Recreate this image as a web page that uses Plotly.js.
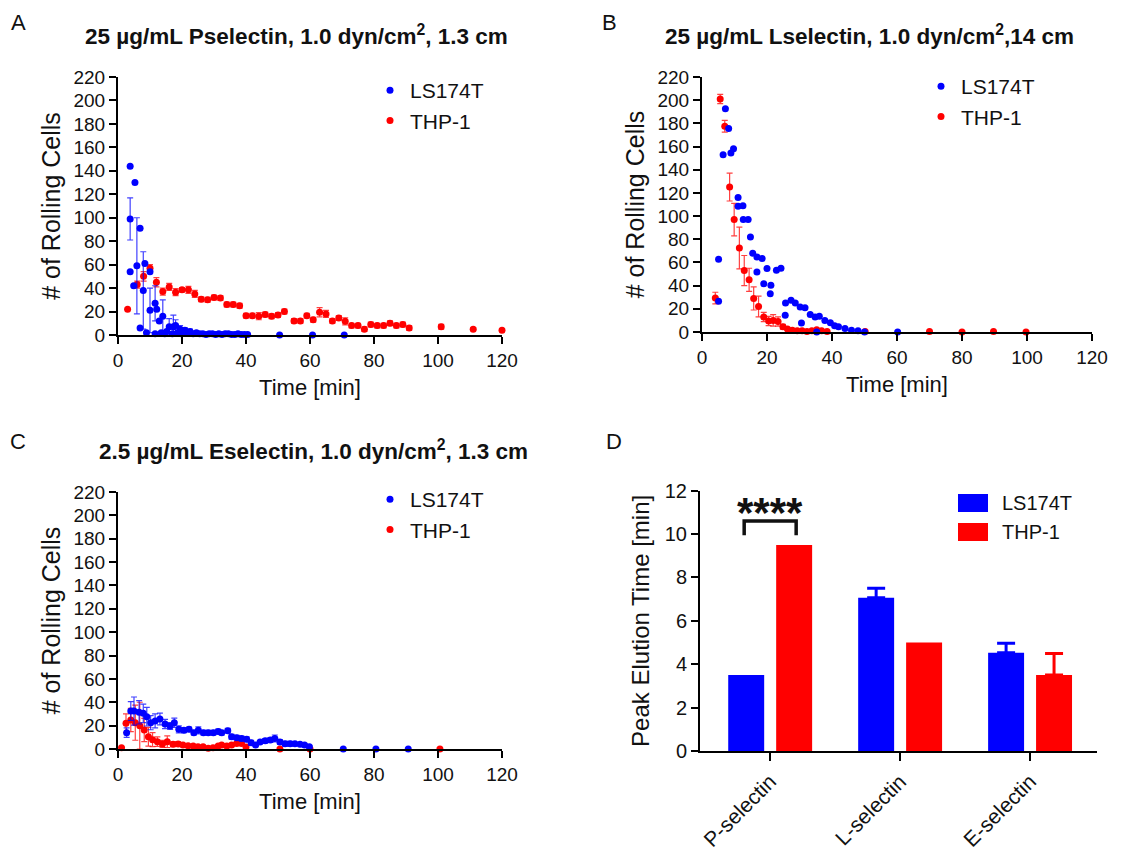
<!DOCTYPE html>
<html><head><meta charset="utf-8">
<script src="https://cdn.plot.ly/plotly-3.0.1.min.js"></script>
<style>html,body{margin:0;padding:0;background:#fff}#chart{width:1128px;height:854px}</style>
</head><body><div id="chart"></div>
<script>
const seriesNames = ['LS174T', 'THP-1'];
const seriesColors = ['#0000FF', '#FF0000'];

// Panel A: 25 ug/mL P-selectin
const aBlueT = [3.8,5.3,3.8,3.8,4.9,5.9,6.9,6.9,7.9,8.4,8.9,10,10,11.6,12.1,11.6,12.9,14,16,17.3,18,19.4,20.9,22.5,13.5,14.6,15.2,17,18.6,19.8,21.5,23.5,24.5,25.5,26.5,27.5,28.5,29.5,30.5,31.5,32.5,33.5,34.5,35.5,36.5,37.5,38.5,39.5,40.5,50.5,60.8,70.7];
const aBlueV = [144,130,99,54,42,59,91,6,38,61,2,54,21,27,22,1,12,16,7,7,8,5,4,3,2,1,3,1,2,1,2,1,2,1,1,0.5,1,1,0.5,1,0.5,1,1,0.5,0.5,1,0.5,0.5,0.5,0,0,0];
const aBlueE = [0,0,18,0,0,41,0,0,33,0,0,0,19,15,0,0,0,14,7,10,5,3,2,2,1,1,1,1,1,1,1,1,1,1,1,0,0,0,0,0,0,0,0,0,0,0,0,0,0,0,0,0];
const aRedT = [3,6,8,10,12,14,16,18,20,22,24,26,28,30,32,34,36,38,40,42,44,46,48,50,52,55,57,59,61,63,65,67,69,71,73,75,77,79,81,83,85,87,89,91,101,111,120];
const aRedV = [22,43,50,57,45,37,41,36.5,38.5,38.5,35,30.5,30,32,31.5,26,26,25,16.5,16.5,16,17.5,16,17,20,12,12,16.5,13,19.4,18,12,14.5,11.7,8,8,5,9,8,8,10,8,9,6,7,5,4];
const aRedE = [0,3,4,3,4,3,3,3,2,3,3,2,2,2,2,2,2,2,2,2,3,2,2,2,2,2,2,2,2,4,3,2,2,3,2,2,2,2,2,2,2,2,2,2,2,1,1];

// Panel B: 25 ug/mL L-selectin
const bBlueT = [5.1,5.1,6.5,7.2,8.2,8.9,9.7,11.1,11.1,12.6,12.7,14.2,14.9,15.6,16.9,16.9,18.5,19,20,21,21.2,22.9,24.3,25.6,25.7,27.4,28.7,30.2,31.7,30.6,33.3,34.8,36.1,35.3,37.8,39.5,40.8,42,44,46,48,50,60.2];
const bBlueV = [26.5,62.7,153,192.7,175.5,154.5,158,116,108.5,109,97,97,82,68,64.7,51.8,63.5,41.7,54.7,33,40.3,53.2,55,14.4,25,27.3,25,21.6,21,7.8,15,13,13.5,0,10,8,5.5,4.5,3,1.5,1,0,0];
const bRedT = [4.1,5.6,7,8.5,9.9,11.5,13,14.5,15.9,17.4,19,20.5,21.9,23.4,24.9,26.3,27.8,29.3,30.8,32.3,33.8,35.3,36.8,38.5,50.2,70,80,89.7,99.7];
const bRedV = [29.3,201,177.5,125,97,72.5,53,45,29,22,13,9.5,10,9,4.5,2.5,1.5,1,1,0.5,1,2,1,0.5,0.5,0.5,0,0.5,0];
const bRedE = [5,4,5,12,14,18,13,10,10,9,4,4,5,4,2,1,1,1,1,0,0,0,0,0,0,0,0,0,0];

// Panel C: 2.5 ug/mL E-selectin
const cBlueT = [2.7,4,5,6.6,7.9,9,10.2,11.6,13.1,14.7,16.3,17.6,19,20.6,22.2,23.7,25.1,26.7,28.2,29.8,31.3,32.4,34.3,35.5,37.1,38.6,40.2,41.6,43,44.4,46,47.6,49,50.6,52.2,53.8,55.3,56.9,58.3,59.8,70.4,80.6,90.7];
const cBlueV = [14,32.5,32.5,31.4,30.5,27.7,22.5,24,25.7,21.4,19.7,22.5,16.8,16,16.8,14,16,14,14,14,15,14,15.7,10.5,9.7,9,8.3,5.4,3.4,6,7,7.7,9,6,4.5,4.5,4.5,4,3.4,2,0,0,0];
const cBlueE = [4,8,12,10,8,8,6,6,5,4,3,4,3,2,2,2,3,2,2,2,2,2,2,2,2,2,2,2,1,1,2,2,3,2,2,2,1,1,1,1,0,0,0];
const cRedT = [1.1,2.5,4,5.4,6.8,8.2,9.5,10.8,12.3,13.9,15.4,17.2,18.8,20.3,21.9,23.5,25,26.6,28.2,29.7,31.3,32.4,34,35.5,37.1,38.6,40,50.6,60,100.6];
const cRedV = [1,22,24.8,22.5,20,16.3,10.5,8,6.3,4.3,6.3,4,4.3,3.4,2.8,2.6,2,2,0.6,1,2.6,3.4,2.6,3.4,4.8,4.8,1.7,0,0,0];
const cRedE = [0,8,10,15,20,10,8,6,4,3,5,2,2,1,1,1,1,1,1,1,1,1,1,1,1,1,1,0,0,0];

// Panel D: peak elution time
const dCats = ['P-selectin', 'L-selectin', 'E-selectin'];
const dBlue = [3.5, 7.07, 4.53];
const dBlueErr = [0, 0.43, 0.44];
const dRed = [9.5, 5.0, 3.5];
const dRedErr = [0, 0, 1.0];

const FONT = 'Liberation Sans, Arial, sans-serif';
const noZero = (arr) => arr.map(v => (v > 0 ? v : NaN));

function scat(t, v, e, idx, xa, ya, leg) {
  const tr = {
    type: 'scatter', mode: 'markers', x: t, y: v, name: seriesNames[idx],
    xaxis: xa, yaxis: ya, legend: leg, legendrank: idx + 1, cliponaxis: false,
    marker: {color: seriesColors[idx], size: 7}
  };
  if (e) {
    tr.error_y = {type: 'data', array: noZero(e), visible: true, thickness: 1.2, width: 3,
      color: idx === 0 ? 'rgba(0,0,255,0.75)' : 'rgba(255,0,0,0.75)'};
  }
  return tr;
}

function barErr(e, color) {
  const up = noZero(e);
  return {type: 'data', array: up, arrayminus: up.map(v => (isNaN(v) ? NaN : 0)), symmetric: false,
    visible: true, thickness: 3, width: 9, color: color};
}

const data = [
  scat(aRedT, aRedV, aRedE, 1, 'x', 'y', 'legend'),
  scat(aBlueT, aBlueV, aBlueE, 0, 'x', 'y', 'legend'),
  scat(bRedT, bRedV, bRedE, 1, 'x2', 'y2', 'legend2'),
  scat(bBlueT, bBlueV, null, 0, 'x2', 'y2', 'legend2'),
  scat(cRedT, cRedV, cRedE, 1, 'x3', 'y3', 'legend3'),
  scat(cBlueT, cBlueV, cBlueE, 0, 'x3', 'y3', 'legend3'),
  {type: 'bar', x: dCats, y: dBlue, name: seriesNames[0], xaxis: 'x4', yaxis: 'y4', showlegend: false,
   marker: {color: seriesColors[0]}, error_y: barErr(dBlueErr, seriesColors[0])},
  {type: 'bar', x: dCats, y: dRed, name: seriesNames[1], xaxis: 'x4', yaxis: 'y4', showlegend: false,
   marker: {color: seriesColors[1]}, error_y: barErr(dRedErr, seriesColors[1])}
];

const axisBase = {
  showline: true, linecolor: '#000', linewidth: 2, ticks: 'outside', ticklen: 7, tickwidth: 2,
  tickcolor: '#000', showgrid: false, zeroline: false, fixedrange: true,
  tickfont: {size: 19, color: '#111', family: FONT}
};
const P = (px) => px / 1128;
const Q = (py) => 1 - py / 854;

function xa(dom, anchor) {
  return Object.assign({}, axisBase, {domain: dom, anchor: anchor, range: [0, 120], dtick: 20, tick0: 0,
    title: {text: 'Time [min]', font: {size: 22, color: '#111', family: FONT}, standoff: 10}});
}
function ya(dom, anchor) {
  return Object.assign({}, axisBase, {domain: dom, anchor: anchor, range: [0, 220], dtick: 20, tick0: 0,
    title: {text: '# of Rolling Cells', font: {size: 25, color: '#111', family: FONT}, standoff: 6}});
}

const legBase = {xanchor: 'left', yanchor: 'top', bgcolor: 'rgba(0,0,0,0)',
  font: {size: 21, color: '#111', family: FONT}, itemwidth: 30, tracegroupgap: 0};

const titleFont = {size: 22.5, color: '#111', family: FONT};
const letterFont = {size: 22, color: '#111', family: FONT};

function ann(text, px, py, font, extra) {
  return Object.assign({text: text, x: P(px), y: Q(py), xref: 'paper', yref: 'paper',
    xanchor: 'center', yanchor: 'middle', showarrow: false, font: font}, extra || {});
}

const layout = {
  width: 1128, height: 854, margin: {l: 0, r: 0, t: 0, b: 0},
  paper_bgcolor: '#fff', plot_bgcolor: '#fff',
  font: {family: FONT, color: '#111'},
  barmode: 'group', bargap: 0.262, bargroupgap: 0.25,
  xaxis: xa([P(118), P(502)], 'y'),
  yaxis: ya([Q(335), Q(77)], 'x'),
  xaxis2: xa([P(702), P(1092)], 'y2'),
  yaxis2: ya([Q(332), Q(77)], 'x2'),
  xaxis3: xa([P(118), P(502)], 'y3'),
  yaxis3: ya([Q(749), Q(492)], 'x3'),
  xaxis4: Object.assign({}, axisBase, {domain: [P(700), P(1097)], anchor: 'y4', type: 'category',
    range: [-0.54, 2.515], ticklen: 8, tickangle: -45, tickfont: {size: 21, color: '#111', family: FONT}}),
  yaxis4: Object.assign({}, axisBase, {domain: [Q(751), Q(490.7)], anchor: 'x4', range: [0, 12], dtick: 2,
    tickfont: {size: 20, color: '#111', family: FONT},
    title: {text: 'Peak Elution Time [min]', font: {size: 24, color: '#111', family: FONT}, standoff: 8}}),
  legend: Object.assign({}, legBase, {x: P(370), y: Q(70)}),
  legend2: Object.assign({}, legBase, {x: P(921), y: Q(66)}),
  legend3: Object.assign({}, legBase, {x: P(370), y: Q(479)}),
  shapes: [
    {type: 'path', xref: 'x4', yref: 'y4', path: 'M -0.2,9.95 L -0.2,10.6 L 0.2,10.6 L 0.2,9.95',
     line: {color: '#111', width: 3.5}},
    {type: 'rect', xref: 'paper', yref: 'paper', x0: P(958), x1: P(988), y0: Q(512), y1: Q(494),
     fillcolor: seriesColors[0], line: {width: 0}},
    {type: 'rect', xref: 'paper', yref: 'paper', x0: P(958), x1: P(988), y0: Q(541), y1: Q(523),
     fillcolor: seriesColors[1], line: {width: 0}}
  ],
  annotations: [
    ann('A', 18, 22, letterFont),
    ann('B', 609, 22, letterFont),
    ann('C', 18, 441, letterFont),
    ann('D', 614, 441, letterFont),
    ann('<b>25 \u00b5g/mL Pselectin, 1.0 dyn/cm<sup>2</sup>, 1.3 cm</b>', 296, 35, titleFont),
    ann('<b>25 \u00b5g/mL Lselectin, 1.0 dyn/cm<sup>2</sup>,14 cm</b>', 869, 35, titleFont),
    ann('<b>2.5 \u00b5g/mL Eselectin, 1.0 dyn/cm<sup>2</sup>, 1.3 cm</b>', 313, 450, titleFont),
    {text: '<b>****</b>', x: 0, y: 11.0, xref: 'x4', yref: 'y4', xanchor: 'center', yanchor: 'middle',
     showarrow: false, font: {size: 42, color: '#111', family: FONT}},
    ann(seriesNames[0], 1000, 503, {size: 20, color: '#111', family: FONT}, {xanchor: 'left'}),
    ann(seriesNames[1], 1000, 532, {size: 20, color: '#111', family: FONT}, {xanchor: 'left'})
  ]
};

Plotly.newPlot('chart', data, layout, {displayModeBar: false, staticPlot: true});
</script>
</body></html>
